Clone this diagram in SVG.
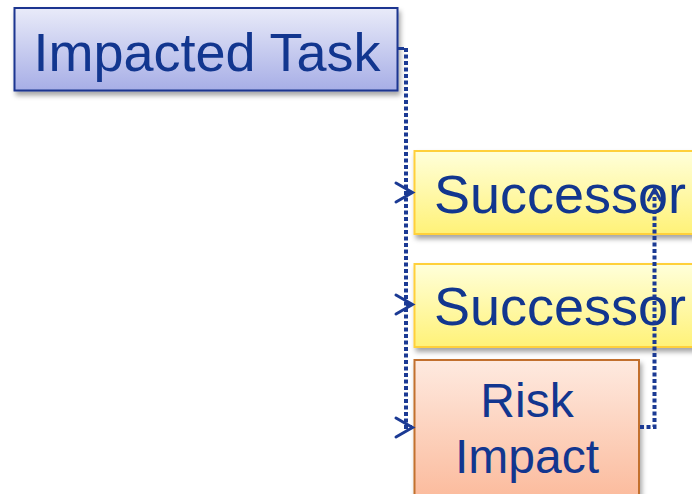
<svg xmlns="http://www.w3.org/2000/svg" width="692" height="494" viewBox="0 0 692 494">
<style>
  .lbl { font-family: "Liberation Sans", Arial, sans-serif; fill: #12368F; }
  .dot { fill: none; stroke: #1B3A94; stroke-width: 4; stroke-dasharray: 4 2.5; }
  .solid { fill: none; stroke: #1B3A94; stroke-width: 3; }
  .chev { fill: none; stroke: #1B3A94; stroke-width: 3; stroke-linecap: round; stroke-linejoin: miter; }
</style>
<defs>
  <linearGradient id="gBlue" x1="0" y1="0" x2="0" y2="1">
    <stop offset="0" stop-color="#E9EBF9"/>
    <stop offset="1" stop-color="#A7AEE6"/>
  </linearGradient>
  <linearGradient id="gYellow" x1="0" y1="0" x2="0" y2="1">
    <stop offset="0" stop-color="#FFFFDA"/>
    <stop offset="1" stop-color="#FFF278"/>
  </linearGradient>
  <linearGradient id="gOrange" x1="0" y1="0" x2="0" y2="1">
    <stop offset="0" stop-color="#FEEAE0"/>
    <stop offset="1" stop-color="#FBB797"/>
  </linearGradient>
  <filter id="shadow" x="-10%" y="-10%" width="130%" height="140%">
    <feDropShadow dx="2" dy="4" stdDeviation="2.5" flood-color="#000" flood-opacity="0.35"/>
  </filter>
</defs>

<g id="node-impacted-task">
  <rect x="14.5" y="8" width="383" height="82.5" fill="url(#gBlue)" stroke="#1A3590" stroke-width="2" filter="url(#shadow)"/>
  <text class="lbl" x="207" y="71" font-size="54" text-anchor="middle">Impacted Task</text>
</g>

<g id="node-successor-1">
  <rect x="414.5" y="151" width="290" height="83" fill="url(#gYellow)" stroke="#FFD03A" stroke-width="2" filter="url(#shadow)"/>
  <text class="lbl" x="434" y="212.5" font-size="54">Successor</text>
</g>

<g id="node-successor-2">
  <rect x="414.5" y="264" width="290" height="83" fill="url(#gYellow)" stroke="#FFD03A" stroke-width="2" filter="url(#shadow)"/>
  <text class="lbl" x="434" y="324.5" font-size="54">Successor</text>
</g>

<g id="node-risk-impact">
  <rect x="414.5" y="360" width="224.5" height="150" fill="url(#gOrange)" stroke="#C2702E" stroke-width="2" filter="url(#shadow)"/>
  <text class="lbl" x="527" y="416.5" font-size="48" text-anchor="middle">Risk</text>
  <text class="lbl" x="527" y="473" font-size="48" text-anchor="middle">Impact</text>
</g>

<g id="connectors">
  <!-- Impacted Task to successors / risk impact -->
  <path class="solid" d="M398 48.5 H404"/>
  <path class="dot" d="M406 48 V427 H412"/>
  <path class="dot" d="M406 192.5 H412"/>
  <path class="dot" d="M406 304.5 H412"/>
  <path class="chev" d="M396 183 L412.5 192.5 L396 202"/>
  <path class="chev" d="M396 295 L412.5 304.5 L396 314"/>
  <path class="chev" d="M396 418 L412.5 427.5 L396 437"/>
  <!-- Risk Impact back up to successor -->
  <path class="dot" d="M640 427 H654.5 V191"/>
  <path class="chev" d="M648.5 200 L654.5 189 L660.5 200"/>
</g>
</svg>
